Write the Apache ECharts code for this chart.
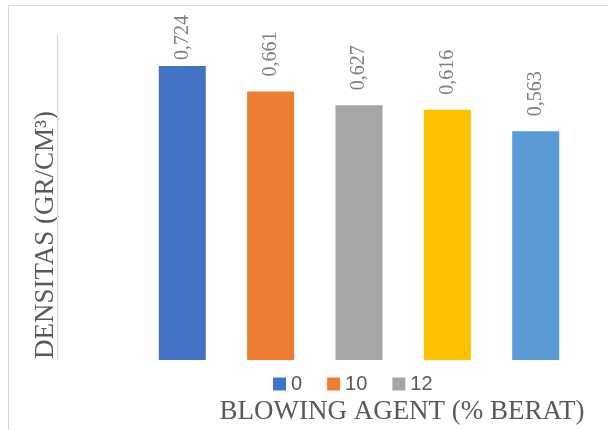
<!DOCTYPE html>
<html>
<head>
<meta charset="utf-8">
<script src="https://cdn.jsdelivr.net/npm/echarts@6/dist/echarts.min.js"></script>
<style>
  html, body { margin: 0; padding: 0; background: #fff; }
  #chart { width: 608px; height: 430px; }
</style>
</head>
<body>
<div id="chart"></div>
<script>
// blowing agent levels (% berat) and measured density
const levels = ["0", "10", "12", "14", "16"];
const densitas = [0.724, 0.661, 0.627, 0.616, 0.563];
const colors = ["#4472C4", "#ED7D31", "#A5A5A5", "#FFC000", "#5B9BD5"];
const legendShown = ["0", "10", "12"];

const serif = "'Liberation Serif', 'Times New Roman', serif";

const myChart = echarts.init(document.querySelector("#chart"));

const series = levels.map(function (name, i) {
  return {
    name: name,
    type: "bar",
    data: [densitas[i]],
    barWidth: 47,
    barGap: "88%",
    itemStyle: { color: colors[i] },
    label: {
      show: true,
      position: "top",
      rotate: 90,
      align: "left",
      verticalAlign: "middle",
      // the tallest label is squeezed against the top edge
      distance: i === 0 ? 6 : 15,
      fontFamily: serif,
      fontSize: 20,
      color: "#7f7f7f",
      formatter: function (p) {
        return p.value.toFixed(3).replace(".", ",");
      }
    }
  };
});

myChart.setOption({
  animation: false,
  grid: { left: 111, right: 1, top: 35, height: 325 },
  legend: {
    data: legendShown,
    left: 268,
    top: 369,
    itemWidth: 13,
    itemHeight: 13,
    itemGap: 25,
    icon: "rect",
    textStyle: { fontFamily: "'Liberation Sans', Arial, sans-serif", fontSize: 20, color: "#595959" }
  },
  xAxis: {
    type: "category",
    data: [""],
    axisLine: { show: false },
    axisTick: { show: false },
    axisLabel: { show: false }
  },
  yAxis: {
    type: "value",
    min: 0,
    max: 0.8,
    offset: 54,
    axisLine: { show: true, lineStyle: { color: "#d9d9d9", width: 1 } },
    axisTick: { show: false },
    axisLabel: { show: false },
    splitLine: { show: false }
  },
  graphic: [
    {
      type: "rect",
      shape: { x: 8.5, y: 5.5, width: 640, height: 460 },
      style: { fill: "none", stroke: "#d9d9d9", lineWidth: 1 },
      silent: true
    },
    {
      type: "text",
      x: 46,
      y: 235,
      rotation: Math.PI / 2,
      style: {
        text: "DENSITAS (GR/CM³)",
        align: "center",
        verticalAlign: "middle",
        font: "27px " + serif,
        fill: "#595959"
      }
    },
    {
      type: "text",
      x: 402,
      y: 412,
      style: {
        text: "BLOWING AGENT (% BERAT)",
        align: "center",
        verticalAlign: "middle",
        font: "27px " + serif,
        fill: "#595959"
      }
    }
  ],
  series: series
});
</script>
</body>
</html>
